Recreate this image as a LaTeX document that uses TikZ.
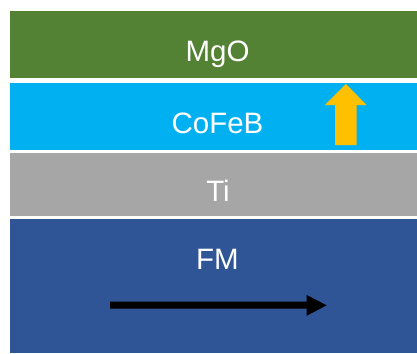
\documentclass[tikz,border=0pt]{standalone}
\usepackage{fontspec}
\setmainfont{Liberation Sans}
\definecolor{mgo}{HTML}{548235}
\definecolor{cofeb}{HTML}{00B0F0}
\definecolor{ti}{HTML}{A6A6A6}
\definecolor{fm}{HTML}{2F5597}
\definecolor{arrowyellow}{HTML}{FFC000}
\begin{document}
\begin{tikzpicture}[x=1pt,y=-1pt,
  layertext/.style={anchor=base,text=white,inner sep=0pt,font=\fontsize{29.5}{32}\selectfont}]
\useasboundingbox (0,0) rectangle (417,353);
\fill[white] (0,0) rectangle (417,353);
% layers
\fill[mgo]   (10,11)    rectangle (417,78);
\fill[cofeb] (10,83)    rectangle (417,150);
\fill[ti]    (10,153)   rectangle (417,216);
\fill[fm]    (10,218.7) rectangle (417,353);
% labels
\node[layertext] (lmgo)   at (217.5,61.7)  {MgO};
\node[layertext] (lcofeb) at (217.5,133.3) {CoFeB};
\node[layertext] (lti)    at (218,201.7)   {Ti};
\node[layertext] (lfm)    at (217.5,269.3) {FM};
% yellow up arrow
\fill[arrowyellow] (335,145) -- (335,105) -- (325,105) -- (345.8,84) -- (366.7,105) -- (356.7,105) -- (356.7,145) -- cycle;
% black right arrow
\fill[black] (110,301.7) -- (306.7,301.7) -- (306.7,295) -- (326.7,305.3) -- (306.7,315.7) -- (306.7,308.5) -- (110,308.5) -- cycle;
\end{tikzpicture}
\end{document}
